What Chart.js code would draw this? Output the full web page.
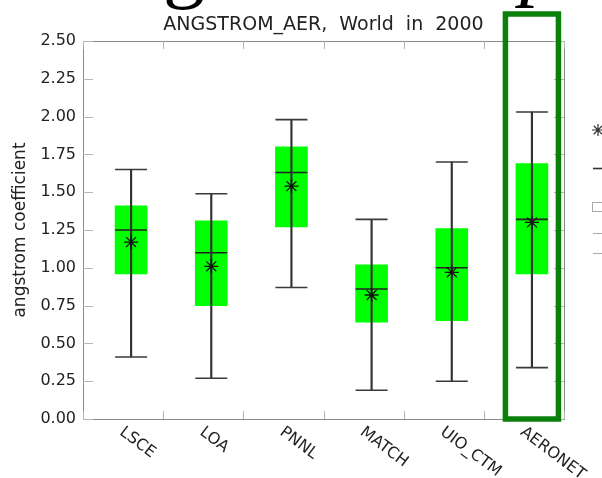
<!DOCTYPE html>
<html>
<head>
<meta charset="utf-8">
<script src="https://cdn.jsdelivr.net/npm/chart.js@4.4.1/dist/chart.umd.min.js"></script>
<style>
  html, body { margin: 0; padding: 0; background: #ffffff; }
  #wrap { width: 602px; height: 478px; }
</style>
</head>
<body>
<div id="wrap"><canvas id="c" width="602" height="478"></canvas></div>
<script>
// Angstrom exponent statistics per model, world mean for 2000
const categories   = ['LSCE', 'LOA', 'PNNL', 'MATCH', 'UIO_CTM', 'AERONET'];
const whiskerHigh  = [1.65, 1.49, 1.98, 1.32, 1.70, 2.03];
const quartileHigh = [1.41, 1.31, 1.80, 1.02, 1.26, 1.69];
const medians      = [1.25, 1.10, 1.63, 0.86, 1.00, 1.32];
const means        = [1.17, 1.01, 1.54, 0.82, 0.97, 1.30];
const quartileLow  = [0.96, 0.75, 1.27, 0.64, 0.65, 0.96];
const whiskerLow   = [0.41, 0.27, 0.87, 0.19, 0.25, 0.34];
const yTicks       = [0, 0.25, 0.5, 0.75, 1.0, 1.25, 1.5, 1.75, 2.0, 2.25, 2.5];

const TITLE = 'ANGSTROM_AER,  World  in  2000';
const Y_TITLE = 'angstrom coefficient';
const FONT = "'DejaVu Sans', sans-serif";
const INK = '#222222';
const BOX_SHIFT = 0.6;          // boxes sit right of the slot centre
const slot = i => i + BOX_SHIFT;
const LABEL_ANGLE = 37 * Math.PI / 180;

const boxData     = categories.map((c, i) => ({ x: slot(i), y: [quartileLow[i], quartileHigh[i]] }));
const whiskerData = categories.map((c, i) => ({ x: slot(i), y: [whiskerLow[i], whiskerHigh[i]] }));
const capData     = categories.flatMap((c, i) => [{ x: slot(i), y: whiskerLow[i] }, { x: slot(i), y: whiskerHigh[i] }]);
const medianData  = categories.map((c, i) => ({ x: slot(i), y: medians[i] }));
const meanData    = categories.map((c, i) => ({ x: slot(i), y: means[i] }));

// Frame with inward tick marks on all four sides, plus rotated category names
const framePlugin = {
  id: 'frame',
  beforeDatasetsDraw(chart) {
    const { ctx, chartArea: a, scales: { x, y } } = chart;
    ctx.save();
    ctx.strokeStyle = '#8a8a8a';
    ctx.lineWidth = 1;
    ctx.strokeRect(a.left + 0.5, a.top + 0.5, a.right - a.left, a.bottom - a.top);
    ctx.strokeStyle = '#b5b5b5';
    ctx.beginPath();
    yTicks.forEach(v => {
      const py = Math.round(y.getPixelForValue(v)) + 0.5;
      ctx.moveTo(a.left, py); ctx.lineTo(a.left + 10, py);
      ctx.moveTo(a.right, py); ctx.lineTo(a.right - 10, py);
    });
    for (let k = 0; k <= categories.length; k++) {
      const px = Math.round(x.getPixelForValue(k)) + 0.5;
      ctx.moveTo(px, a.bottom); ctx.lineTo(px, a.bottom - 8);
      ctx.moveTo(px, a.top); ctx.lineTo(px, a.top + 8);
    }
    ctx.stroke();
    ctx.restore();
  },
  afterDraw(chart) {
    const { ctx, chartArea: a, scales: { x } } = chart;
    ctx.save();
    // title
    ctx.fillStyle = INK;
    ctx.font = '19px ' + FONT;
    ctx.textAlign = 'center';
    ctx.textBaseline = 'middle';
    ctx.fillText(TITLE, (a.left + a.right) / 2, 25);
    // category names, slanted downwards
    ctx.font = '16px ' + FONT;
    ctx.textAlign = 'left';
    ctx.textBaseline = 'top';
    categories.forEach((name, i) => {
      ctx.save();
      ctx.translate(x.getPixelForValue(slot(i)) - 5, a.bottom + 5);
      ctx.rotate(LABEL_ANGLE);
      ctx.fillText(name, 0, 0);
      ctx.restore();
    });
    // highlight frame around the AERONET column
    const last = categories.length - 1;
    const cx = x.getPixelForValue(slot(last));
    ctx.strokeStyle = '#0a7f0a';
    ctx.lineWidth = 5.5;
    ctx.strokeRect(cx - 26.5, 14, 53, a.bottom - 14);
    // legend keys running off the right edge
    ctx.strokeStyle = '#333';
    ctx.lineWidth = 1.2;
    Chart.helpers.drawPoint(ctx, { pointStyle: 'star', radius: 6, borderWidth: 1.2 }, 598, 130);
    ctx.lineWidth = 1.6;
    ctx.beginPath(); ctx.moveTo(593, 168.5); ctx.lineTo(602, 168.5); ctx.stroke();
    ctx.strokeStyle = '#aaa';
    ctx.lineWidth = 1;
    ctx.strokeRect(592.5, 202.5, 12, 9);
    ctx.beginPath();
    ctx.moveTo(593, 233.5); ctx.lineTo(602, 233.5);
    ctx.moveTo(593, 253.5); ctx.lineTo(602, 253.5);
    ctx.stroke();
    // slide heading letters cut by the top edge
    ctx.fillStyle = '#000';
    ctx.textAlign = 'left';
    ctx.textBaseline = 'alphabetic';
    ctx.font = "84px 'Liberation Serif', serif";
    ctx.fillText('g', 163, -8);
    ctx.font = "italic 84px 'Liberation Serif', serif";
    ctx.fillText('p', 520, -10);
    ctx.restore();
  }
};

new Chart(document.getElementById('c'), {
  type: 'bar',
  data: {
    datasets: [
      { type: 'bar', data: boxData, backgroundColor: '#00ff00', borderWidth: 0,
        barThickness: 32, grouped: false, order: 5 },
      { type: 'bar', data: whiskerData, backgroundColor: '#333333', borderWidth: 0,
        barThickness: 1.5, grouped: false, order: 4 },
      { type: 'scatter', data: capData, pointStyle: 'line', radius: 16, borderWidth: 1.6,
        borderColor: '#3a3a3a', order: 3 },
      { type: 'scatter', data: medianData, pointStyle: 'line', radius: 16, borderWidth: 1.6,
        borderColor: '#222222', order: 2 },
      { type: 'scatter', data: meanData, pointStyle: 'star', radius: 7, borderWidth: 1.3,
        borderColor: '#111111', order: 1 }
    ]
  },
  options: {
    responsive: false,
    animation: false,
    devicePixelRatio: 1,
    layout: { padding: { top: 41, right: 38, left: 0, bottom: 0 } },
    plugins: { legend: { display: false }, tooltip: { enabled: false }, title: { display: false } },
    scales: {
      x: {
        type: 'linear', min: 0, max: categories.length, offset: false,
        grid: { display: false, drawTicks: false }, border: { display: false },
        ticks: { display: false, stepSize: 1 },
        afterFit: s => { s.height = 59; }
      },
      y: {
        min: 0, max: 2.5,
        grid: { display: false, drawTicks: false }, border: { display: false },
        afterBuildTicks: s => { s.ticks = yTicks.map(v => ({ value: v })); },
        ticks: { color: INK, padding: 7, font: { family: FONT, size: 16 },
                 callback: v => v.toFixed(2) },
        title: { display: true, text: Y_TITLE, color: INK, padding: { top: 10, bottom: 0 },
                 font: { family: FONT, size: 17 } },
        afterFit: s => { s.width = 83; }
      }
    }
  },
  plugins: [framePlugin]
});
</script>
</body>
</html>
